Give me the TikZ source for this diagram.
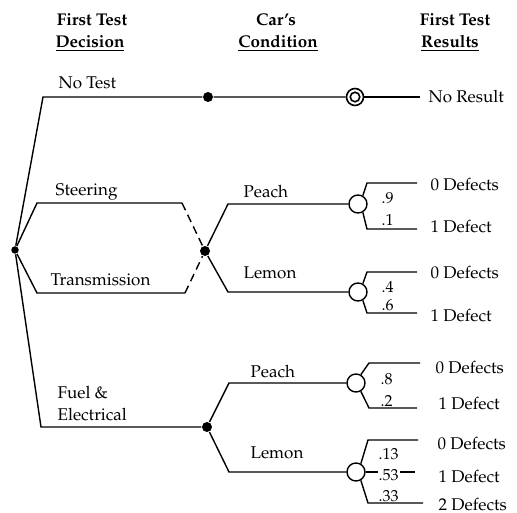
\documentclass[tikz,border=0pt]{standalone}
\usepackage[T1]{fontenc}
\usepackage{mathpazo}
\begin{document}
\begin{tikzpicture}[x=1pt,y=-1pt,line width=1.4pt,
  txt/.style={inner sep=0pt,text height=12pt,text depth=0pt,font=\fontsize{17}{20}\selectfont},
  lbl/.style={txt,anchor=west},
  hdr/.style={txt,font=\fontsize{17}{20}\selectfont\bfseries},
  prob/.style={lbl,font=\fontsize{16}{18}\selectfont},
  rootdot/.style={circle,fill,inner sep=0pt,minimum size=7.5pt},
  chdot/.style={circle,fill,inner sep=0pt,minimum size=10pt},
  chance/.style={circle,draw,fill=white,inner sep=0pt,minimum size=18pt},
  outring/.style={circle,draw,fill=white,inner sep=0pt,minimum size=17pt,line width=1.6pt},
  inring/.style={circle,draw,inner sep=0pt,minimum size=9.5pt,line width=1.6pt}]
\useasboundingbox (0,0) rectangle (517,513);

% headers
\node[hdr] (h1a) at (92,20) {First Test};
\node[hdr] (h1b) at (90,42) {\underline{Decision}};
\node[hdr] (h2a) at (276,20) {Car's};
\node[hdr] (h2b) at (278,42) {\underline{Condition}};
\node[hdr] (h3a) at (455,20) {First Test};
\node[hdr] (h3b) at (450,42) {\underline{Results}};

% coordinates
\coordinate (nt) at (43,97);
\coordinate (s1) at (37,203);
\coordinate (s2) at (182,203);
\coordinate (t1) at (37,293);
\coordinate (t2) at (185,293);
\coordinate (f1) at (41,427);
\coordinate (ntend) at (420,97);

% nodes
\node[rootdot] (root) at (15,250) {};
\node[chdot] (A) at (208,97) {};
\node[chdot] (B) at (205,251) {};
\node[chdot] (E) at (207,427) {};
\node[outring] (D) at (355,97) {};
\node[inring] (Di) at (355,97) {};
\node[chance] (C1) at (358,204) {};
\node[chance] (C2) at (358,292) {};
\node[chance] (C3) at (356,383) {};
\node[chance] (C4) at (356,472) {};

% decision branches
\draw (root) -- (nt) -- (A) -- (D);
\draw (D) -- (ntend);
\draw (root) -- (s1) -- (s2);
\draw[dashed,dash pattern=on 8pt off 5pt] (s2) -- (B);
\draw (root) -- (t1) -- (t2);
\draw[dashed,dash pattern=on 8pt off 5pt] (t2) -- (B);
\draw (root) -- (f1) -- (E);

% condition branches
\coordinate (p1) at (228,204);
\coordinate (l1) at (228,292);
\coordinate (p2) at (229,383);
\coordinate (l2) at (229,472);
\draw (B) -- (p1) -- (C1);
\draw (B) -- (l1) -- (C2);
\draw (E) -- (p2) -- (C3);
\draw (E) -- (l2) -- (C4);

% result branches
\coordinate (a1) at (367,183); \coordinate (a2) at (417,183);
\coordinate (b1) at (367,229); \coordinate (b2) at (417,229);
\draw (C1.60) -- (a1) -- (a2);
\draw (C1.-60) -- (b1) -- (b2);
\coordinate (c1) at (367,272); \coordinate (c2) at (417,272);
\coordinate (d1) at (367,313); \coordinate (d2) at (417,313);
\draw (C2.60) -- (c1) -- (c2);
\draw (C2.-60) -- (d1) -- (d2);
\coordinate (e1) at (369,363); \coordinate (e2) at (420,363);
\coordinate (g1) at (369,408); \coordinate (g2) at (417,408);
\draw (C3.60) -- (e1) -- (e2);
\draw (C3.-60) -- (g1) -- (g2);
\coordinate (k1) at (368,440); \coordinate (k2) at (418,440);
\coordinate (m2) at (415,472);
\coordinate (n1) at (368,503); \coordinate (n2) at (423,503);
\draw (C4.60) -- (k1) -- (k2);
\draw (C4.east) -- (m2);
\draw (C4.-60) -- (n1) -- (n2);

% branch labels
\node[lbl] (lnt) at (58,83) {No Test};
\node[lbl] (lnr) at (428,97) {No Result};
\node[lbl] (lst) at (55,190) {Steering};
\node[lbl] (ltr) at (50,280) {Transmission};
\node[lbl] (lfu) at (57,392) {Fuel \&};
\node[lbl] (lel) at (57,414) {Electrical};
\node[lbl] (lp1) at (243,192) {Peach};
\node[lbl] (ll1) at (243,273) {Lemon};
\node[lbl] (lp2) at (250,371) {Peach};
\node[lbl] (ll2) at (250,452) {Lemon};

% outcome labels
\node[lbl] (o1) at (430,185) {0 Defects};
\node[lbl] (o2) at (430,227) {1 Defect};
\node[lbl] (o3) at (430,273) {0 Defects};
\node[lbl] (o4) at (430,315) {1 Defect};
\node[lbl] (o5) at (435,367) {0 Defects};
\node[lbl] (o6) at (438,403) {1 Defect};
\node[lbl] (o7) at (437,443) {0 Defects};
\node[lbl] (o8) at (438,476) {1 Defect};
\node[lbl] (o9) at (438,504) {2 Defects};

% probabilities
\node[prob] (q1) at (381,198) {.9};
\node[prob] (q2) at (381,220) {.1};
\node[prob] (q3) at (381,287) {.4};
\node[prob] (q4) at (381,305) {.6};
\node[prob] (q5) at (380,378) {.8};
\node[prob] (q6) at (380,400) {.2};
\node[prob] (q7) at (378,453) {.13};
\node[prob,fill=white,inner xsep=1pt] (q8) at (377,474) {.53};
\node[prob] (q9) at (378,495) {.33};
\end{tikzpicture}
\end{document}
